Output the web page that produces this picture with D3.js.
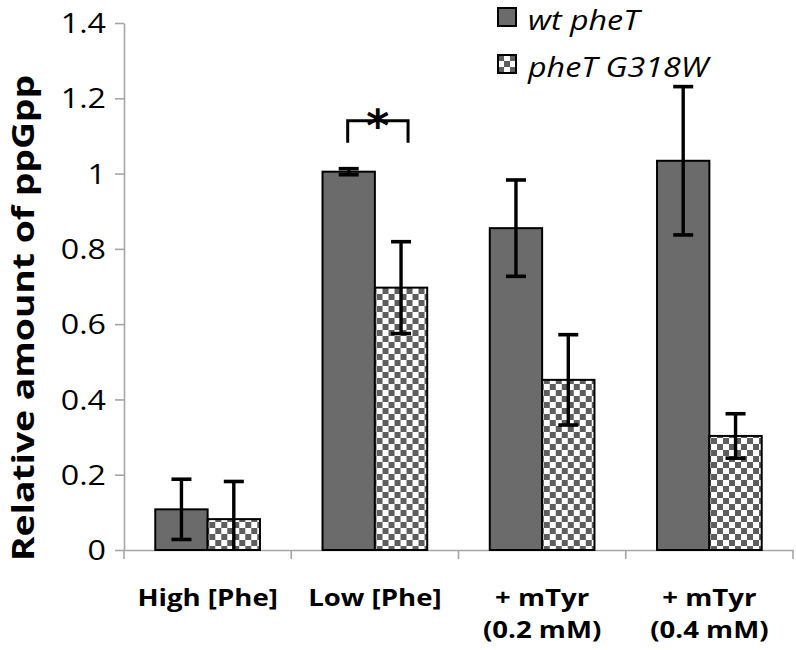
<!DOCTYPE html>
<html><head><meta charset="utf-8">
<script src="https://cdn.jsdelivr.net/npm/d3@7"></script>
<style>body{margin:0;background:#fff} svg{display:block}</style>
</head><body>
<svg id="chart" width="796" height="650"></svg>
<script>
// ---- data ----
const categories = ["High [Phe]", "Low [Phe]", "+ mTyr (0.2 mM)", "+ mTyr (0.4 mM)"];
const categoryLines = [["High [Phe]"], ["Low [Phe]"], ["+ mTyr", "(0.2 mM)"], ["+ mTyr", "(0.4 mM)"]];
const seriesNames = ["wt pheT", "pheT G318W"];
const wtValues = [0.108, 1.005, 0.855, 1.034];
const wtErrors = [0.080, 0.008, 0.128, 0.197];
const mutValues = [0.082, 0.697, 0.452, 0.303];
const mutErrors = [0.100, 0.122, 0.120, 0.059];
const yTicks = [0, 0.2, 0.4, 0.6, 0.8, 1, 1.2, 1.4];
const yTickLabels = ["0", "0.2", "0.4", "0.6", "0.8", "1", "1.2", "1.4"];
const yTitle = "Relative amount of ppGpp";
const significance = [{category: "Low [Phe]", level: 1.14, label: "*"}];

// ---- layout ----
const svg = d3.select("#chart");
const plot = {left: 124, right: 793, top: 23, bottom: 550};
const stretch = 1.15; // horizontal text stretch seen in the reference
const y = d3.scaleLinear().domain([0, 1.4]).range([plot.bottom, plot.top]);
const x0 = d3.scaleBand().domain(categories).range([plot.left, plot.right]).padding(0);
const barW = x0.step() * 0.313;
const x1 = d3.scaleBand().domain(seriesNames).range([0, barW * 2]).padding(0);
const groupOffset = (x0.bandwidth() - barW * 2) / 2;

const defs = svg.append("defs");
const pat = defs.append("pattern").attr("id", "checker")
  .attr("patternUnits", "userSpaceOnUse").attr("width", 12).attr("height", 12);
pat.append("rect").attr("width", 12).attr("height", 12).attr("fill", "#fff");
pat.append("rect").attr("width", 6).attr("height", 6).attr("fill", "#5e5e5e");
pat.append("rect").attr("x", 6).attr("y", 6).attr("width", 6).attr("height", 6).attr("fill", "#5e5e5e");
defs.append("clipPath").attr("id", "plotclip").append("rect")
  .attr("x", plot.left).attr("y", 0).attr("width", plot.right - plot.left).attr("height", plot.bottom);

const fills = {"wt pheT": "#6b6b6b", "pheT G318W": "url(#checker)"};

// ---- axes ----
const yAxis = svg.append("g").attr("transform", `translate(${plot.left},0)`)
  .call(d3.axisLeft(y).tickValues(yTicks).tickSize(9).tickSizeOuter(0).tickFormat(""));
yAxis.selectAll("path, line").attr("stroke", "#a6a6a6").attr("stroke-width", 1.6);

const xAxis = svg.append("g").attr("transform", `translate(0,${plot.bottom})`)
  .call(d3.axisBottom(x0).tickSize(0).tickSizeOuter(0).tickFormat(""));
xAxis.selectAll("path").attr("stroke", "#a6a6a6").attr("stroke-width", 1.6);
const bounds = [plot.left].concat(categories.map(c => x0(c) + x0.step()));
svg.append("g").selectAll("line").data(bounds).join("line")
  .attr("x1", d => d).attr("x2", d => d)
  .attr("y1", plot.bottom).attr("y2", plot.bottom + 9)
  .attr("stroke", "#a6a6a6").attr("stroke-width", 1.6);

svg.append("g").selectAll("text").data(yTicks).join("text")
  .attr("transform", d => `translate(106,${y(d)}) scale(${stretch},1)`)
  .attr("dy", "0.36em").attr("text-anchor", "end")
  .style("font-family", "'Open Sans', sans-serif").style("font-size", "28px").attr("fill", "#000")
  .text((d, i) => yTickLabels[i]);

const xl = svg.append("g").selectAll("text").data(categories).join("text")
  .attr("transform", d => `translate(${x0(d) + x0.bandwidth() / 2},606) scale(${stretch},1)`)
  .attr("text-anchor", "middle")
  .style("font-family", "'Open Sans', sans-serif").style("font-size", "24px").style("font-weight", "bold");
xl.each(function(d, i) {
  d3.select(this).selectAll("tspan").data(categoryLines[i]).join("tspan")
    .attr("x", 0).attr("dy", (t, j) => j === 0 ? 0 : 32).text(t => t);
});

svg.append("text").attr("transform", `translate(34,318) rotate(-90)`)
  .attr("text-anchor", "middle")
  .attr("textLength", 486).attr("lengthAdjust", "spacingAndGlyphs")
  .style("font-family", "'Open Sans', sans-serif").style("font-size", "30px").style("font-weight", "bold")
  .text(yTitle);

// ---- bars ----
const rows = categories.map((c, i) => ({c, vals: [
  {s: seriesNames[0], v: wtValues[i], e: wtErrors[i]},
  {s: seriesNames[1], v: mutValues[i], e: mutErrors[i]}]}));

const g = svg.append("g").selectAll("g").data(rows).join("g")
  .attr("transform", d => `translate(${x0(d.c) + groupOffset},0)`);
g.selectAll("rect").data(d => d.vals).join("rect")
  .attr("x", d => x1(d.s)).attr("width", x1.bandwidth())
  .attr("y", d => y(d.v)).attr("height", d => y(0) - y(d.v))
  .attr("fill", d => fills[d.s]).attr("stroke", "#000").attr("stroke-width", 2);

// ---- error bars ----
const eb = svg.append("g").attr("clip-path", "url(#plotclip)");
rows.forEach(r => r.vals.forEach(d => {
  const cx = x0(r.c) + groupOffset + x1(d.s) + x1.bandwidth() / 2;
  eb.append("line").attr("x1", cx).attr("x2", cx)
    .attr("y1", y(d.v + d.e)).attr("y2", y(d.v - d.e))
    .attr("stroke", "#000").attr("stroke-width", 3.4);
  [d.v + d.e, d.v - d.e].forEach(v => {
    if (v < 0) return;
    eb.append("line").attr("x1", cx - 10).attr("x2", cx + 10)
      .attr("y1", y(v)).attr("y2", y(v))
      .attr("stroke", "#000").attr("stroke-width", 3.6);
  });
}));

// ---- significance ----
significance.forEach(s => {
  const xa = x0(s.category) + groupOffset + x1(seriesNames[0]) + x1.bandwidth() / 2 - 1;
  const xb = x0(s.category) + groupOffset + x1(seriesNames[1]) + x1.bandwidth() / 2 + 7;
  const yy = y(s.level);
  svg.append("path").attr("d", `M${xa},${yy + 22}V${yy}H${xb}V${yy + 22}`)
    .attr("fill", "none").attr("stroke", "#000").attr("stroke-width", 3);
  svg.append("text").attr("x", (xa + xb) / 2).attr("y", yy + 20)
    .attr("text-anchor", "middle")
    .style("font-family", "'DejaVu Sans', sans-serif").style("font-size", "44px").style("font-weight", "bold")
    .text(s.label);
});

// ---- legend ----
const leg = svg.append("g").selectAll("g").data(seriesNames).join("g")
  .attr("transform", (d, i) => `translate(498,${8 + i * 47})`);
leg.append("rect").attr("width", 18).attr("height", 18)
  .attr("fill", d => fills[d]).attr("stroke", "#000").attr("stroke-width", 2);
leg.append("text").attr("transform", `translate(30,22) scale(${stretch},1)`)
  .style("font-family", "'Open Sans', sans-serif").style("font-size", "28px").style("font-style", "italic")
  .text(d => d);
</script>
</body></html>
